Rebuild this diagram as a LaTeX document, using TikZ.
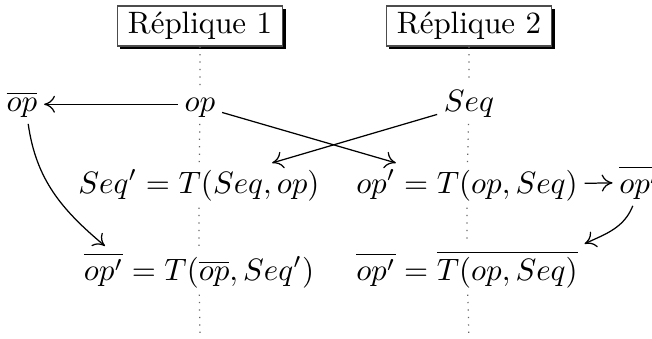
\documentclass[tikz,border=0pt]{standalone}
\usepackage{amsmath}
\usepackage{tikz}
\usetikzlibrary{arrows.meta,shadows}

\begin{document}
\begin{tikzpicture}[x=0.323pt,y=-0.323pt,
  replica/.style={draw=black!70,fill=white,inner xsep=3.5pt,inner ysep=2pt,
                  drop shadow={shadow xshift=1pt,shadow yshift=-1pt,
                               fill=black,opacity=1}},
  term/.style   ={anchor=base,inner sep=2pt},
  life/.style   ={dotted,black!60},
  msg/.style    ={-{To[length=3.5pt,width=5.5pt]}},
]
\useasboundingbox (0,0) rectangle (652,338);

\node[replica] (r1) at (200,26) {R\'eplique 1};
\node[replica] (r2) at (469,26) {R\'eplique 2};

\node[term] (op)     at (200,111) {$op$};
\node[term] (opbar)  at (22,111)  {$\overline{op}$};
\node[term] (seq)    at (469,111) {$Seq$};

\node[term] (seqp)   at (199,193) {$Seq' = T(Seq,op)$};
\node[term] (opp)    at (467,193) {$op' = T(op,Seq)$};
\node[term] (oppbar) at (639,193) {$\overline{op'}$};

\node[term] (bl)     at (199,280) {$\overline{op'} = T(\overline{op},Seq')$};
\node[term] (br)     at (467,280) {$\overline{op'} = \overline{T(op,Seq)}$};

\coordinate (end1) at (200,338);
\coordinate (end2) at (469,338);

% lifelines
\draw[life] (r1) -- (op) (op) -- (seqp) (seqp) -- (bl) (bl) -- (end1);
\draw[life] (r2) -- (seq) (seq) -- (opp) (opp) -- (br) (br) -- (end2);

% messages
\draw[msg] (op.west |- opbar.east) -- (opbar.east);
\draw[msg] (op.-13) -- ([xshift=15pt]opp.north west);
\draw[msg] (seq.199) -- ([xshift=-17.5pt]seqp.north east);
\draw[msg] (opp) -- (oppbar);

% transformations
\draw[msg] ([xshift=2pt]opbar.south) to[out=-82,in=140] ([xshift=9pt]bl.north west);
\draw[msg] ([xshift=-2pt]oppbar.south) to[out=-112,in=25] (br.north east);
\end{tikzpicture}
\end{document}
